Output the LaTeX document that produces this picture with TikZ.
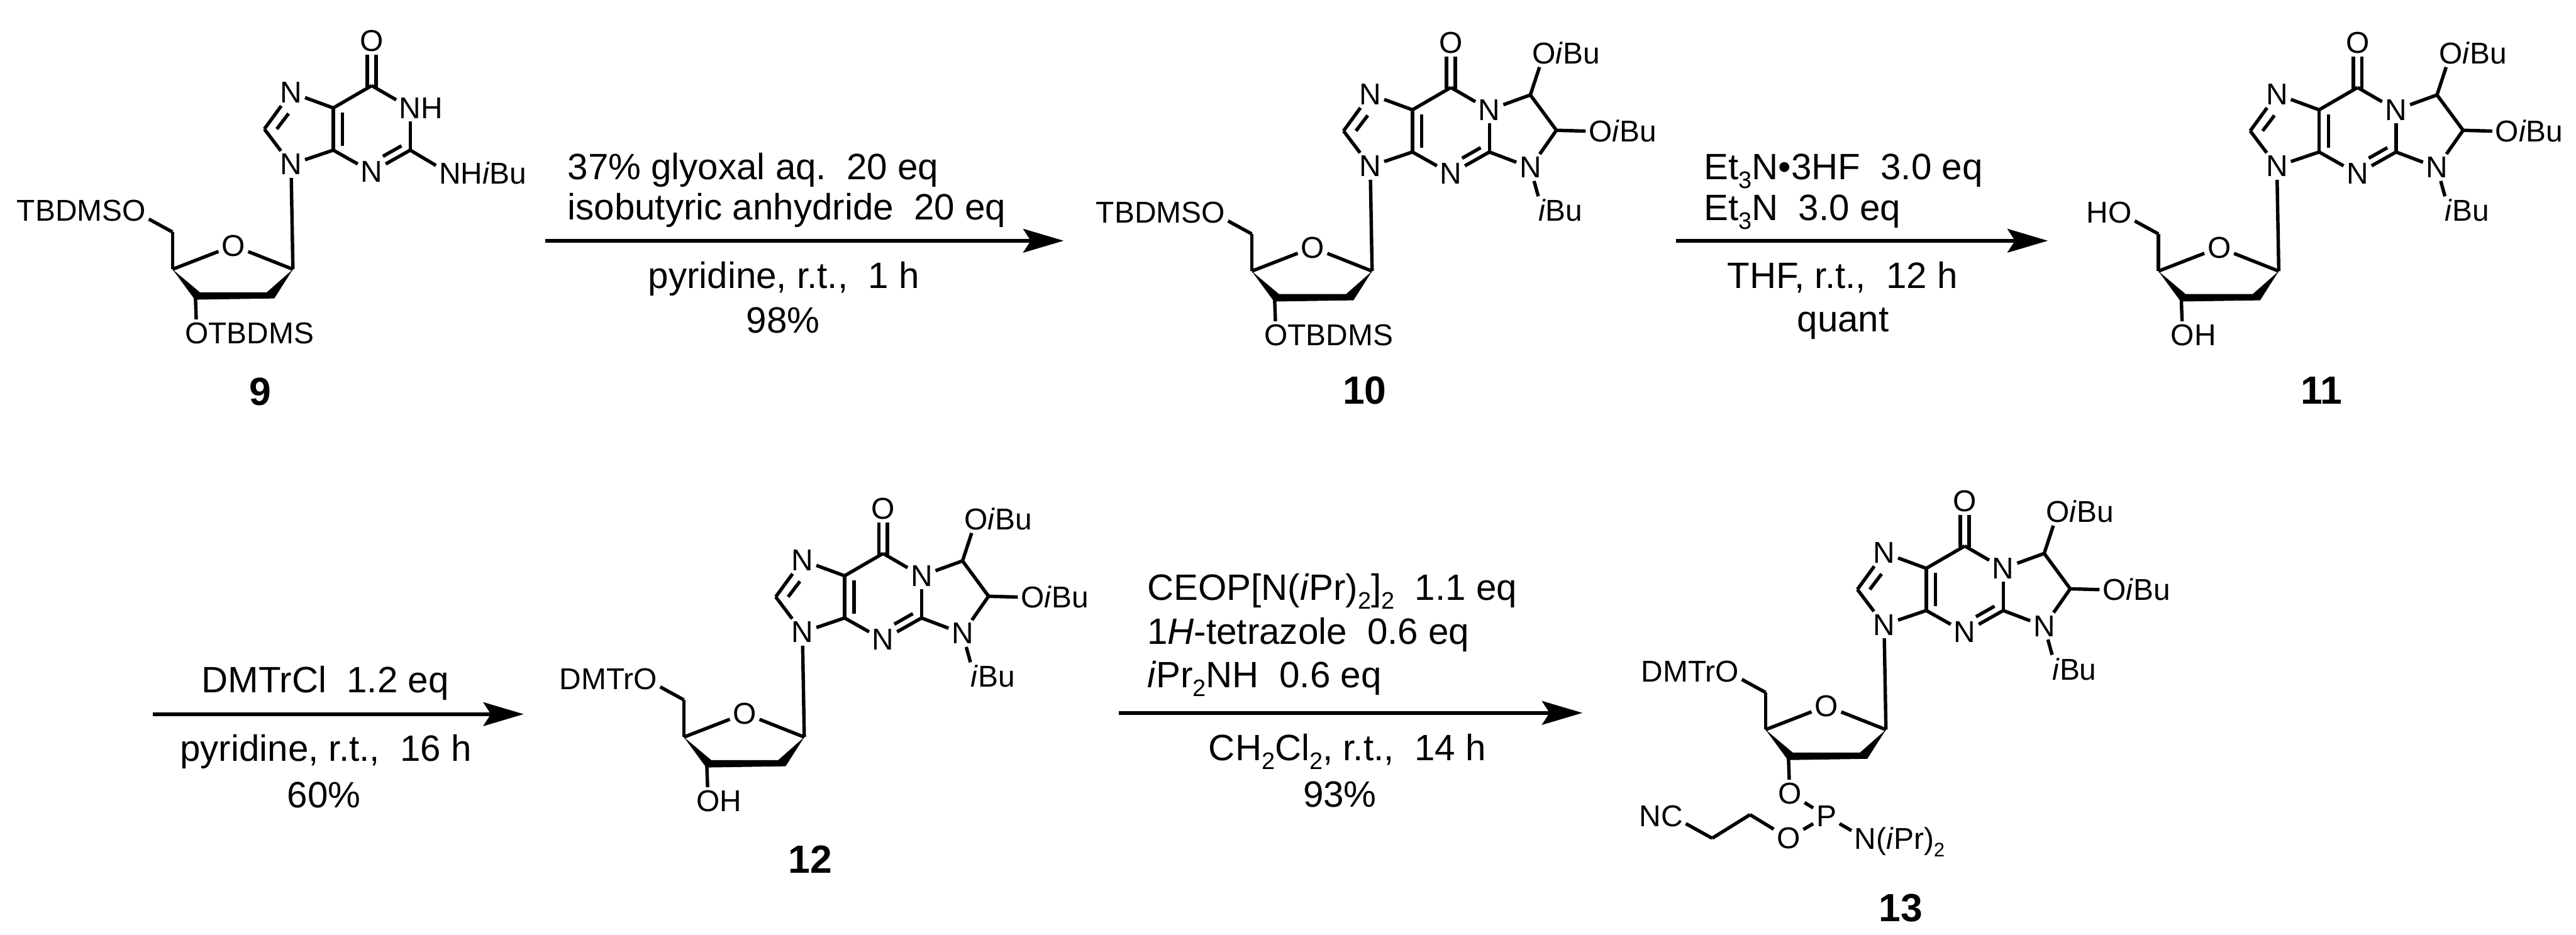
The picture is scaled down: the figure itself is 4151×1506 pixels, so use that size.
\documentclass[tikz,border=0pt]{standalone}
\usepackage{fontspec}
\setmainfont{Liberation Sans}
\usetikzlibrary{arrows.meta}

\newcommand{\low}[1]{\raisebox{-0.24em}{\scalebox{0.65}{#1}}}

\tikzset{
  atom/.style={inner sep=0pt, outer sep=0.05cm, font=\fontsize{13.8}{16}\selectfont},
  tailr/.style={atom, anchor=base west, xshift=-0.1cm},
  taill/.style={atom, anchor=base east, xshift=0.1cm},
  bond/.style={line width=0.055cm},
  rxn/.style={inner sep=0pt, anchor=base west, font=\fontsize{16.8}{20}\selectfont},
  rxnc/.style={rxn, anchor=base},
  cpd/.style={inner sep=0pt, font=\fontsize{18}{20}\selectfont\bfseries},
  rxnarrow/.style={line width=0.065cm, -{Stealth[length=0.65cm,width=0.38cm,inset=0.12cm]}},
}

% sugar and purine part
\newcommand{\corepart}[1]{
  \coordinate (#1c1) at (0,0);
  \coordinate (#1c2) at (-42,37);
  \coordinate (#1c2b) at (-30,47);
  \coordinate (#1c3) at (-150,37);
  \coordinate (#1c3b) at (-158,49);
  \coordinate (#1c3o) at (-157,47);
  \coordinate (#1c4) at (-194,0);
  \coordinate (#1c5p) at (-194,-60);
  \node[atom] (#1o4) at (-96,-38) {O};
  \node[atom] (#1o5) at (-256,-94) {O};
  \node[atom] (#1o3) at (-155,103) {O};
  \node[atom] (#1n9) at (-3,-169) {N};
  \coordinate (#1c8) at (-46,-226);
  \node[atom] (#1n7) at (-3,-285) {N};
  \coordinate (#1c5) at (65,-260);
  \coordinate (#1c4b) at (65,-192);
  \node[atom] (#1n3) at (127,-157) {N};
  \coordinate (#1c2r) at (189,-192);
  \coordinate (#1c6) at (127,-296);
  \node[atom] (#1o6) at (127,-368) {O};
  % double bonds, inner lines
  \coordinate (#1c8i) at (-26,-226);
  \coordinate (#1n7i) at (-7,-251);
  \coordinate (#1c5i) at (80,-253);
  \coordinate (#1c4i) at (80,-199);
  \coordinate (#1c2i) at (175,-199);
  \coordinate (#1n3i) at (145,-182);
  \coordinate (#1c6l) at (120,-294);
  \coordinate (#1c6r) at (134,-294);
  \coordinate (#1o6l) at (120,-346);
  \coordinate (#1o6r) at (134,-346);
  \fill (#1c4) -- (#1c3) -- (#1c2) -- (#1c1) -- (#1c2b) -- (#1c3b) -- cycle;
  \foreach \a/\b in {c1/o4,o4/c4,c4/c5p,c5p/o5,c3o/o3,c1/n9,n9/c8,c8/n7,n7/c5,c5/c4b,c4b/n9,
    c4b/n3,n3/c2r,c5/c6,c8i/n7i,c5i/c4i,c2i/n3i,c6l/o6l,c6r/o6r}
    \draw[bond] (#1\a) -- (#1\b);
}

% third ring with its groups
\newcommand{\thirdring}[1]{
  \node[atom] (#1n1) at (189,-260) {N};
  \coordinate (#1ca) at (255,-284);
  \coordinate (#1cb) at (297,-227);
  \node[atom] (#1nr) at (255,-167) {N};
  \node[atom] (#1oa) at (277,-351) {O};
  \node[tailr] (#1oat) at (#1oa.base east) {\textit{i}Bu};
  \node[atom] (#1ob) at (368,-225) {O};
  \node[tailr] (#1obt) at (#1ob.base east) {\textit{i}Bu};
  \node[atom] (#1is) at (274,-98) {\textit{i}};
  \node[tailr] (#1ist) at (#1is.base east) {Bu};
  \foreach \a/\b in {c6/n1,n1/c2r,n1/ca,ca/cb,cb/nr,nr/c2r,ca/oa,cb/ob,nr/is}
    \draw[bond] (#1\a) -- (#1\b);
}

\begin{document}
\begin{tikzpicture}[x=0.01cm,y=-0.01cm]
  \useasboundingbox (0,0) rectangle (4151,1506);

  % compound 9
  \begin{scope}[shift={(472,434)}]
    \corepart{a}
    \node[taill] (atb) at (ao5.base west) {TBDMS};
    \node[tailr] (atc) at (ao3.base east) {TBDMS};
    \node[atom] (an1) at (189,-260) {N};
    \node[tailr] (an1h) at (an1.base east) {H};
    \node[atom] (an2) at (253,-154) {N};
    \node[tailr] (an2t) at (an2.base east) {H\textit{i}Bu};
    \draw[bond] (ac6) -- (an1);
    \draw[bond] (an1) -- (ac2r);
    \draw[bond] (ac2r) -- (an2);
  \end{scope}
  \node[cpd] (lab9) at (419,631) {9};

  % compound 10
  \begin{scope}[shift={(2211,437)}]
    \corepart{b}
    \thirdring{b}
    \node[taill] (btb) at (bo5.base west) {TBDMS};
    \node[tailr] (btc) at (bo3.base east) {TBDMS};
  \end{scope}
  \node[cpd] (lab10) at (2199,629) {10};

  % compound 11
  \begin{scope}[shift={(3672,437)}]
    \corepart{c}
    \thirdring{c}
    \node[taill] (ctb) at (co5.base west) {H};
    \node[tailr] (ctc) at (co3.base east) {H};
  \end{scope}
  \node[cpd] (lab11) at (3741,629) {11};

  % compound 12
  \begin{scope}[shift={(1296,1188)}]
    \corepart{d}
    \thirdring{d}
    \node[taill] (dtb) at (do5.base west) {DMTr};
    \node[tailr] (dtc) at (do3.base east) {H};
  \end{scope}
  \node[cpd] (lab12) at (1306,1385) {12};

  % compound 13
  \begin{scope}[shift={(3039,1176)}]
    \corepart{e}
    \thirdring{e}
    \node[taill] (etb) at (eo5.base west) {DMTr};
    \node[atom] (ep) at (-96,139) {P};
    \node[atom] (eol) at (-157,175) {O};
    \node[atom] (enp) at (-33,176) {N};
    \node[tailr] (enpt) at (enp.base east) {(\textit{i}Pr)\low{2}};
    \coordinate (ech) at (-219,137);
    \coordinate (ecn) at (-280,175);
    \node[atom] (enc) at (-345,139) {C};
    \node[taill] (enct) at (enc.base west) {N};
    \foreach \a/\b in {o3/p,p/ol,p/np,ol/ch,ch/cn,cn/nc}
      \draw[bond] (e\a) -- (e\b);
  \end{scope}
  \node[cpd] (lab13) at (3063,1463) {13};

  % arrows
  \coordinate (a1s) at (879,388);
  \coordinate (a1e) at (1714,388);
  \coordinate (a2s) at (2701,388);
  \coordinate (a2e) at (3300,388);
  \coordinate (a3s) at (246,1151);
  \coordinate (a3e) at (844,1151);
  \coordinate (a4s) at (1803,1149);
  \coordinate (a4e) at (2550,1149);
  \draw[rxnarrow] (a1s) -- (a1e);
  \draw[rxnarrow] (a2s) -- (a2e);
  \draw[rxnarrow] (a3s) -- (a3e);
  \draw[rxnarrow] (a4s) -- (a4e);

  % reagents
  \node[rxn] (r1a) at (914,289) {37\% glyoxal aq.~~20 eq};
  \node[rxn] (r1b) at (914,354) {isobutyric anhydride~~20 eq};
  \node[rxnc] (r1c) at (1263,465) {pyridine, r.t.,~~1 h};
  \node[rxnc] (r1d) at (1262,537) {98\%};
  \node[rxn] (r2a) at (2745,289) {Et\low{3}N\textbullet3HF~~3.0 eq};
  \node[rxn] (r2b) at (2745,355) {Et\low{3}N~~3.0 eq};
  \node[rxnc] (r2c) at (2969,465) {THF, r.t.,~~12 h};
  \node[rxnc] (r2d) at (2970,535) {quant};
  \node[rxnc] (r3a) at (524,1116) {DMTrCl~~1.2 eq};
  \node[rxnc] (r3b) at (525,1227) {pyridine, r.t.,~~16 h};
  \node[rxnc] (r3c) at (522,1302) {60\%};
  \node[rxn] (r4a) at (1848,967) {CEOP[N(\textit{i}Pr)\low{2}]\low{2}~~1.1 eq};
  \node[rxn] (r4b) at (1848,1038) {1\textit{H}-tetrazole~~0.6 eq};
  \node[rxn] (r4c) at (1848,1108) {\textit{i}Pr\low{2}NH~~0.6 eq};
  \node[rxnc] (r4d) at (2171,1226) {CH\low{2}Cl\low{2}, r.t.,~~14 h};
  \node[rxnc] (r4e) at (2159,1301) {93\%};
\end{tikzpicture}
\end{document}
